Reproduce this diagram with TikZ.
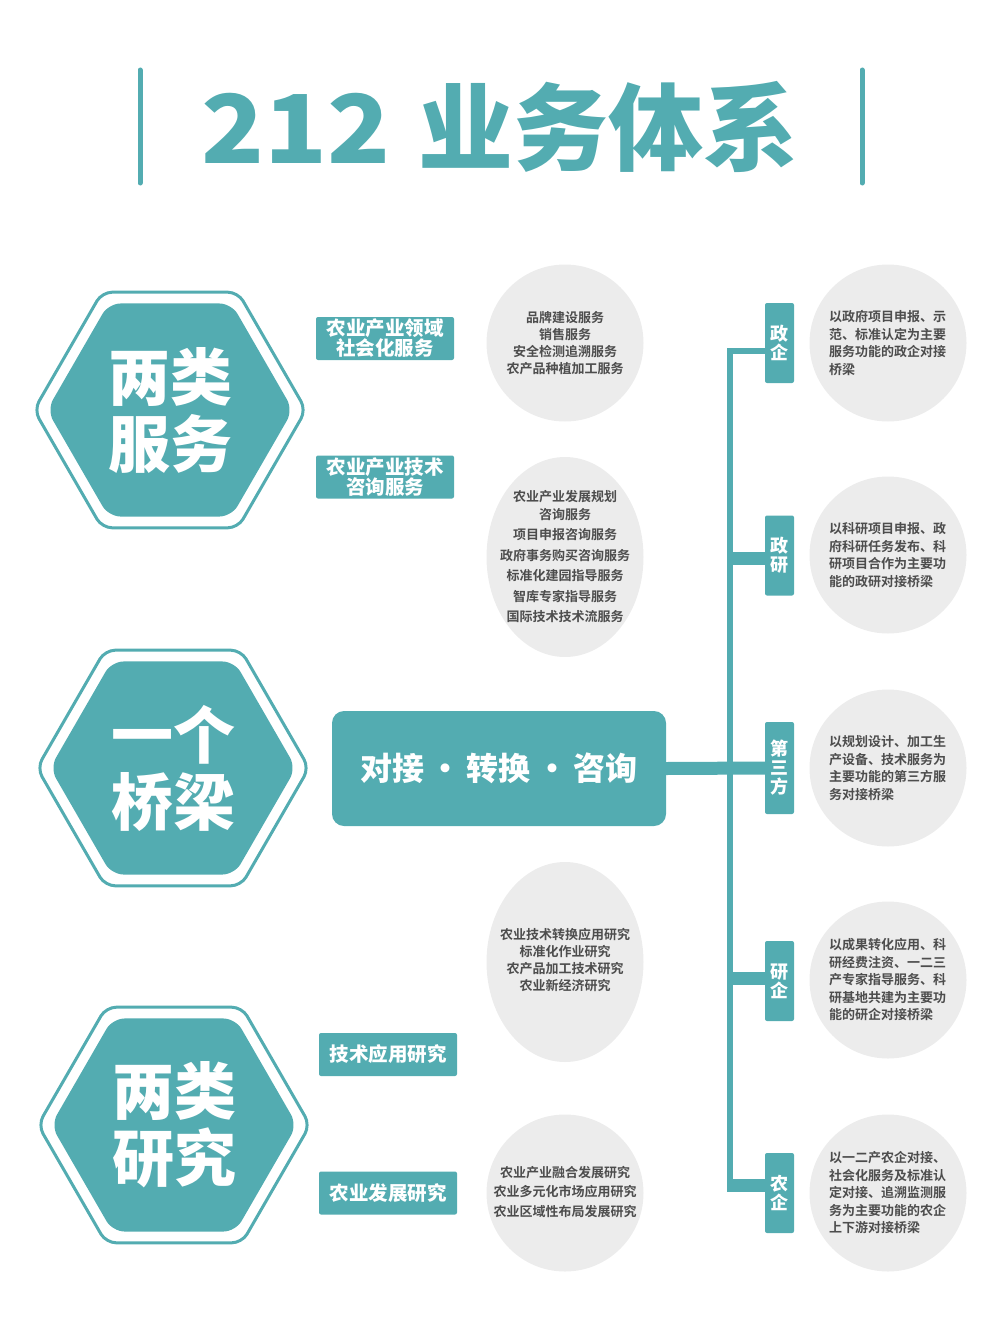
\documentclass[tikz,border=0pt]{standalone}
\usepackage{fontspec}
\usepackage{tikz}
\usetikzlibrary{shapes.geometric}
\setmainfont{Noto Sans CJK SC}
\newfontfamily\heavy{Noto Sans CJK SC Black}
\newfontfamily\cjkbold{Noto Sans CJK SC Bold}
\definecolor{tealc}{RGB}{83,172,177}
\definecolor{discgray}{RGB}{236,236,236}
\definecolor{inkgray}{RGB}{77,77,77}

\begin{document}
\begin{tikzpicture}[x=1pt,y=-1pt,
  bar/.style={draw=tealc,line width=5pt,line cap=round},
  hexout/.style={regular polygon,regular polygon sides=6,minimum size=272pt,inner sep=0pt,draw=tealc,line width=3pt,rounded corners=10pt},
  hexin/.style={regular polygon,regular polygon sides=6,minimum size=246pt,inner sep=0pt,fill=tealc,rounded corners=12pt},
  hextext/.style={text=white,align=center,font=\heavy\fontsize{62}{67}\selectfont},
  labelbox/.style={fill=tealc,rounded corners=2pt,minimum width=138pt,minimum height=43pt,inner sep=0pt,text=white,align=center,font=\heavy\fontsize{19.5}{18.5}\selectfont},
  tagbox/.style={fill=tealc,rounded corners=2pt,minimum width=29pt,minimum height=80pt,inner sep=0pt,text=white,align=center,font=\heavy\fontsize{18}{19}\selectfont},
  hubbox/.style={fill=tealc,rounded corners=12pt,minimum width=334pt,minimum height=115pt,inner sep=0pt,text=white,font=\heavy\fontsize{32}{32}\selectfont},
  disc/.style={circle,fill=discgray,minimum size=157pt,inner sep=0pt},
  oval/.style={ellipse,fill=discgray,minimum width=157pt,minimum height=200pt,inner sep=0pt},
  item/.style={text=inkgray,align=center,inner sep=0pt,font=\cjkbold\fontsize{13}{17}\selectfont},
  note/.style={text=inkgray,align=left,text width=118pt,inner sep=0pt,font=\cjkbold\fontsize{13}{17.5}\selectfont},
  link/.style={draw=tealc,line width=13pt},
  thinlink/.style={draw=tealc,line width=6.5pt}]

\useasboundingbox (0,0) rectangle (1000,1319);

\draw[bar] (140,70) -- (140,183);
\draw[bar] (862,70) -- (862,183);
\node[text=tealc,font=\heavy\fontsize{95}{95}\selectfont] (title) at (500,127) {\scalebox{1.09}[1]{212}\hspace{28pt}业务体系};

\node[hexout] (svcout) at (170,410) {};
\node[hexin] (svc) at (170,410) {};
\node[hextext] (svctxt) at (svc) {两类\\服务};
\node[hexout] (brgout) at (173,768) {};
\node[hexin] (brg) at (173,768) {};
\node[hextext] (brgtxt) at (brg) {一个\\桥梁};
\node[hexout] (rschout) at (174,1125) {};
\node[hexin] (rsch) at (174,1125) {};
\node[hextext] (rschtxt) at (rsch) {两类\\研究};

\node[labelbox] (lbsoc) at (385,338.5) {农业产业领域\\社会化服务};
\node[labelbox] (lbtech) at (385,477) {农业产业技术\\咨询服务};
\node[labelbox] (lbapp) at (388,1054.5) {技术应用研究};
\node[labelbox] (lbdev) at (388,1193) {农业发展研究};

\node[hubbox] (hub) at (499,768.5) {对接\,·\,转换\,·\,咨询};

\node[disc] (d1) at (565,343) {};
\node[item] (d1txt) at (d1) {品牌建设服务\\销售服务\\安全检测追溯服务\\农产品种植加工服务};
\node[oval] (d2) at (565,557) {};
\node[item,font=\cjkbold\fontsize{13}{20.5}\selectfont] (d2txt) at (d2) {农业产业发展规划\\[-3pt]咨询服务\\项目申报咨询服务\\政府事务购买咨询服务\\标准化建园指导服务\\智库专家指导服务\\国际技术技术流服务};
\node[oval] (d3) at (565,962) {};
\node[item] (d3txt) at ([yshift=2pt]d3) {农业技术转换应用研究\\标准化作业研究\\农产品加工技术研究\\农业新经济研究};
\node[disc] (d4) at (565,1193) {};
\node[item,font=\cjkbold\fontsize{13}{19.5}\selectfont] (d4txt) at ([yshift=1pt]d4) {农业产业融合发展研究\\农业多元化市场应用研究\\农业区域性布局发展研究};

\node[tagbox] (zq) at (779.5,343) {政\\企};
\node[tagbox] (zy) at (779.5,555.5) {政\\研};
\node[tagbox,minimum height=92pt] (dsf) at (779.5,768) {第\\三\\方};
\node[tagbox] (yq) at (779.5,981) {研\\企};
\node[tagbox] (nq) at (779.5,1193) {农\\企};

\node[disc] (r1) at (888,343) {};
\node[note] (r1txt) at (r1) {以政府项目申报、示\\范、标准认定为主要\\服务功能的政企对接\\桥梁};
\node[disc] (r2) at (888,555) {};
\node[note] (r2txt) at (r2) {以科研项目申报、政\\府科研任务发布、科\\研项目合作为主要功\\能的政研对接桥梁};
\node[disc] (r3) at (888,768) {};
\node[note] (r3txt) at (r3) {以规划设计、加工生\\产设备、技术服务为\\主要功能的第三方服\\务对接桥梁};
\node[disc] (r4) at (888,980) {};
\node[note] (r4txt) at (r4) {以成果转化应用、科\\研经费注资、一二三\\产专家指导服务、科\\研基地共建为主要功\\能的研企对接桥梁};
\node[disc] (r5) at (888,1193) {};
\node[note] (r5txt) at (r5) {以一二产农企对接、\\社会化服务及标准认\\定对接、追溯监测服\\务为主要功能的农企\\上下游对接桥梁};

\coordinate (sptop) at (730,351);
\coordinate (spbot) at (730,1185);
\draw[thinlink] (zq.west |- sptop) -- (sptop) -- ([yshift=-6pt]spbot);
\draw[link] ([xshift=-3pt]spbot) -- (nq.west |- spbot);
\draw[link] ([yshift=-3pt]zy.west) -- ([yshift=-3pt]zy.west -| sptop);
\draw[link] ([yshift=3pt]yq.west) -- ([yshift=3pt]yq.west -| sptop);
\draw[link] (hub.east) -- (dsf.west);
\end{tikzpicture}
\end{document}
